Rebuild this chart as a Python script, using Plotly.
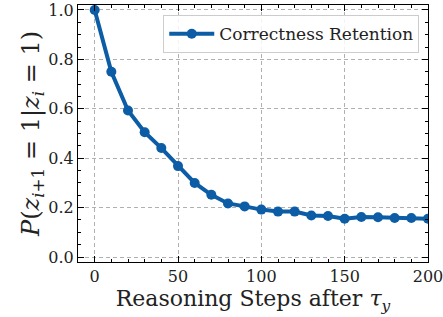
import plotly.graph_objects as go

steps = [0, 10, 20, 30, 40, 50, 60, 70, 80, 90, 100, 110, 120, 130, 140, 150, 160, 170, 180, 190, 200]
retention = [1.0, 0.750, 0.593, 0.505, 0.441, 0.368, 0.300, 0.252, 0.217, 0.205, 0.192,
             0.184, 0.184, 0.168, 0.166, 0.155, 0.162, 0.161, 0.158, 0.158, 0.155]
series_name = "Correctness Retention"
x_ticks = [0, 50, 100, 150, 200]
y_ticks = [0.0, 0.2, 0.4, 0.6, 0.8, 1.0]

FONT = "DejaVu Serif, serif"
BLUE = "#0C5DA5"
TXT = "#222"

fig = go.Figure()
fig.add_trace(go.Scatter(
    x=steps, y=retention, mode="lines+markers", name=series_name,
    line=dict(color=BLUE, width=4), marker=dict(color=BLUE, size=10),
    cliponaxis=True,
))

axis_common = dict(
    showline=True, linecolor="black", linewidth=1, mirror="allticks",
    ticks="inside", ticklen=6, tickcolor="black", tickwidth=1,
    showgrid=True, gridcolor="#b0b0b0", griddash="4px,3px", gridwidth=1,
    zeroline=False, tickfont=dict(family=FONT, size=16, color=TXT),
    automargin=False, ticklabeloverflow="allow",
)

fig.update_xaxes(
    range=[-10, 200], tickvals=x_ticks, ticktext=[str(v) for v in x_ticks],
    minor=dict(ticks="inside", ticklen=3, dtick=10, tick0=0, tickcolor="black", showgrid=False),
    title=dict(text="Reasoning Steps after <i>τ</i><sub><i>y</i></sub>",
               font=dict(family=FONT, size=22, color=TXT), standoff=0),
    **axis_common,
)
fig.update_yaxes(
    range=[-0.02, 1.02], tickvals=y_ticks, ticktext=[f"{v:.1f}" for v in y_ticks],
    minor=dict(ticks="inside", ticklen=3, dtick=0.05, tick0=0, tickcolor="black", showgrid=False),
    title=dict(text="<i>P</i>(<i>z</i><sub><i>i</i>+1</sub> = 1|<i>z</i><sub><i>i</i></sub> = 1)",
               font=dict(family=FONT, size=24, color=TXT), standoff=0),
    **axis_common,
)

fig.update_layout(
    width=443, height=317,
    margin=dict(l=78, r=15, t=5, b=55),
    paper_bgcolor="white", plot_bgcolor="white",
    showlegend=True,
    legend=dict(x=0.975, y=0.96, xanchor="right", yanchor="top", itemwidth=45,
                bgcolor="rgba(255,255,255,0.85)", bordercolor="#cccccc", borderwidth=1,
                font=dict(family=FONT, size=17, color=TXT)),
)

fig.write_html("out.html", config={"displayModeBar": False},
               post_script="document.body.style.margin='0';document.body.style.padding='0';")
